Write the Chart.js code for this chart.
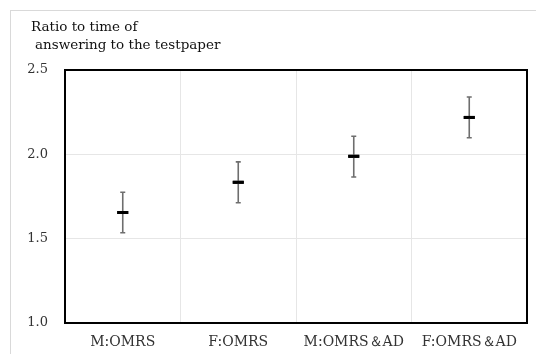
<!DOCTYPE html>
<html>
<head>
<meta charset="utf-8">
<script src="https://cdn.jsdelivr.net/npm/chart.js"></script>
<style>
  html, body { margin: 0; padding: 0; background: #fff; }
  #wrap { width: 536px; height: 354px; }
</style>
</head>
<body>
<div id="wrap"><canvas id="chart" width="536" height="354"></canvas></div>
<script>
// values
const categories = ['M:OMRS', 'F:OMRS', 'M:OMRS\uFF06AD', 'F:OMRS\uFF06AD'];
const means = [1.655, 1.834, 1.988, 2.219];
const upper = [1.775, 1.955, 2.107, 2.340];
const lower = [1.535, 1.713, 1.866, 2.098];
const yTicks = [1.0, 1.5, 2.0, 2.5];

const serif = '"DejaVu Serif", "Liberation Serif", serif';

// frame + title + plot border
const decor = {
  id: 'decor',
  beforeDraw(chart) {
    const ctx = chart.ctx;
    ctx.save();
    ctx.fillStyle = '#fff';
    ctx.fillRect(0, 0, chart.width, chart.height);
    ctx.strokeStyle = '#d9d9d9';
    ctx.lineWidth = 1;
    ctx.strokeRect(10.5, 10.5, chart.width, chart.height);
    ctx.fillStyle = '#111';
    ctx.font = '13.5px ' + serif;
    ctx.textBaseline = 'middle';
    ctx.fillText('Ratio to time of', 31, 27);
    ctx.fillText('answering to the testpaper', 35, 45);
    ctx.restore();
  },
  afterDraw(chart) {
    const a = chart.chartArea;
    const ctx = chart.ctx;
    ctx.save();
    ctx.strokeStyle = '#000';
    ctx.lineWidth = 2;
    ctx.strokeRect(a.left, a.top, a.right - a.left, a.bottom - a.top);
    ctx.restore();
  }
};

// error bars with caps
const errorBars = {
  id: 'errorBars',
  afterDatasetsDraw(chart) {
    const x = chart.scales.x, y = chart.scales.y;
    const ctx = chart.ctx;
    ctx.save();
    ctx.strokeStyle = '#6e6e6e';
    ctx.lineWidth = 1.6;
    categories.forEach((c, i) => {
      const px = x.getPixelForValue(i);
      const top = y.getPixelForValue(upper[i]);
      const bot = y.getPixelForValue(lower[i]);
      ctx.beginPath();
      ctx.moveTo(px, top); ctx.lineTo(px, bot);
      ctx.moveTo(px - 2.5, top); ctx.lineTo(px + 2.5, top);
      ctx.moveTo(px - 2.5, bot); ctx.lineTo(px + 2.5, bot);
      ctx.stroke();
    });
    // mean markers on top of the bars
    ctx.strokeStyle = '#000';
    ctx.lineWidth = 3;
    means.forEach((m, i) => {
      const px = x.getPixelForValue(i);
      const py = y.getPixelForValue(m);
      ctx.beginPath();
      ctx.moveTo(px - 5.5, py); ctx.lineTo(px + 5.5, py);
      ctx.stroke();
    });
    ctx.restore();
  }
};

new Chart(document.getElementById('chart'), {
  type: 'line',
  data: {
    labels: categories,
    datasets: [{
      data: means,
      showLine: false,
      pointStyle: 'line',
      pointRadius: 5.5,
      pointBorderWidth: 3,
      pointBorderColor: '#000',
      pointBackgroundColor: '#000'
    }]
  },
  options: {
    responsive: false,
    animation: false,
    layout: { padding: { left: 0, top: 70, right: 9, bottom: 0 } },
    plugins: { legend: { display: false }, tooltip: { enabled: false } },
    scales: {
      x: {
        offset: true,
        grid: { offset: true, color: '#e6e6e6', drawTicks: false },
        border: { display: false },
        ticks: { color: '#333', font: { family: serif, size: 14 }, padding: 11, maxRotation: 0 },
        afterFit(s) { s.height = 31; }
      },
      y: {
        min: 1.0,
        max: 2.5,
        afterBuildTicks(s) { s.ticks = yTicks.map(v => ({ value: v })); },
        grid: { color: '#e6e6e6', drawTicks: false },
        border: { display: false },
        ticks: {
          color: '#333',
          font: { family: serif, size: 13 },
          padding: 17,
          callback: v => v.toFixed(1)
        },
        afterFit(s) { s.width = 65; }
      }
    }
  },
  plugins: [decor, errorBars]
});
</script>
</body>
</html>
